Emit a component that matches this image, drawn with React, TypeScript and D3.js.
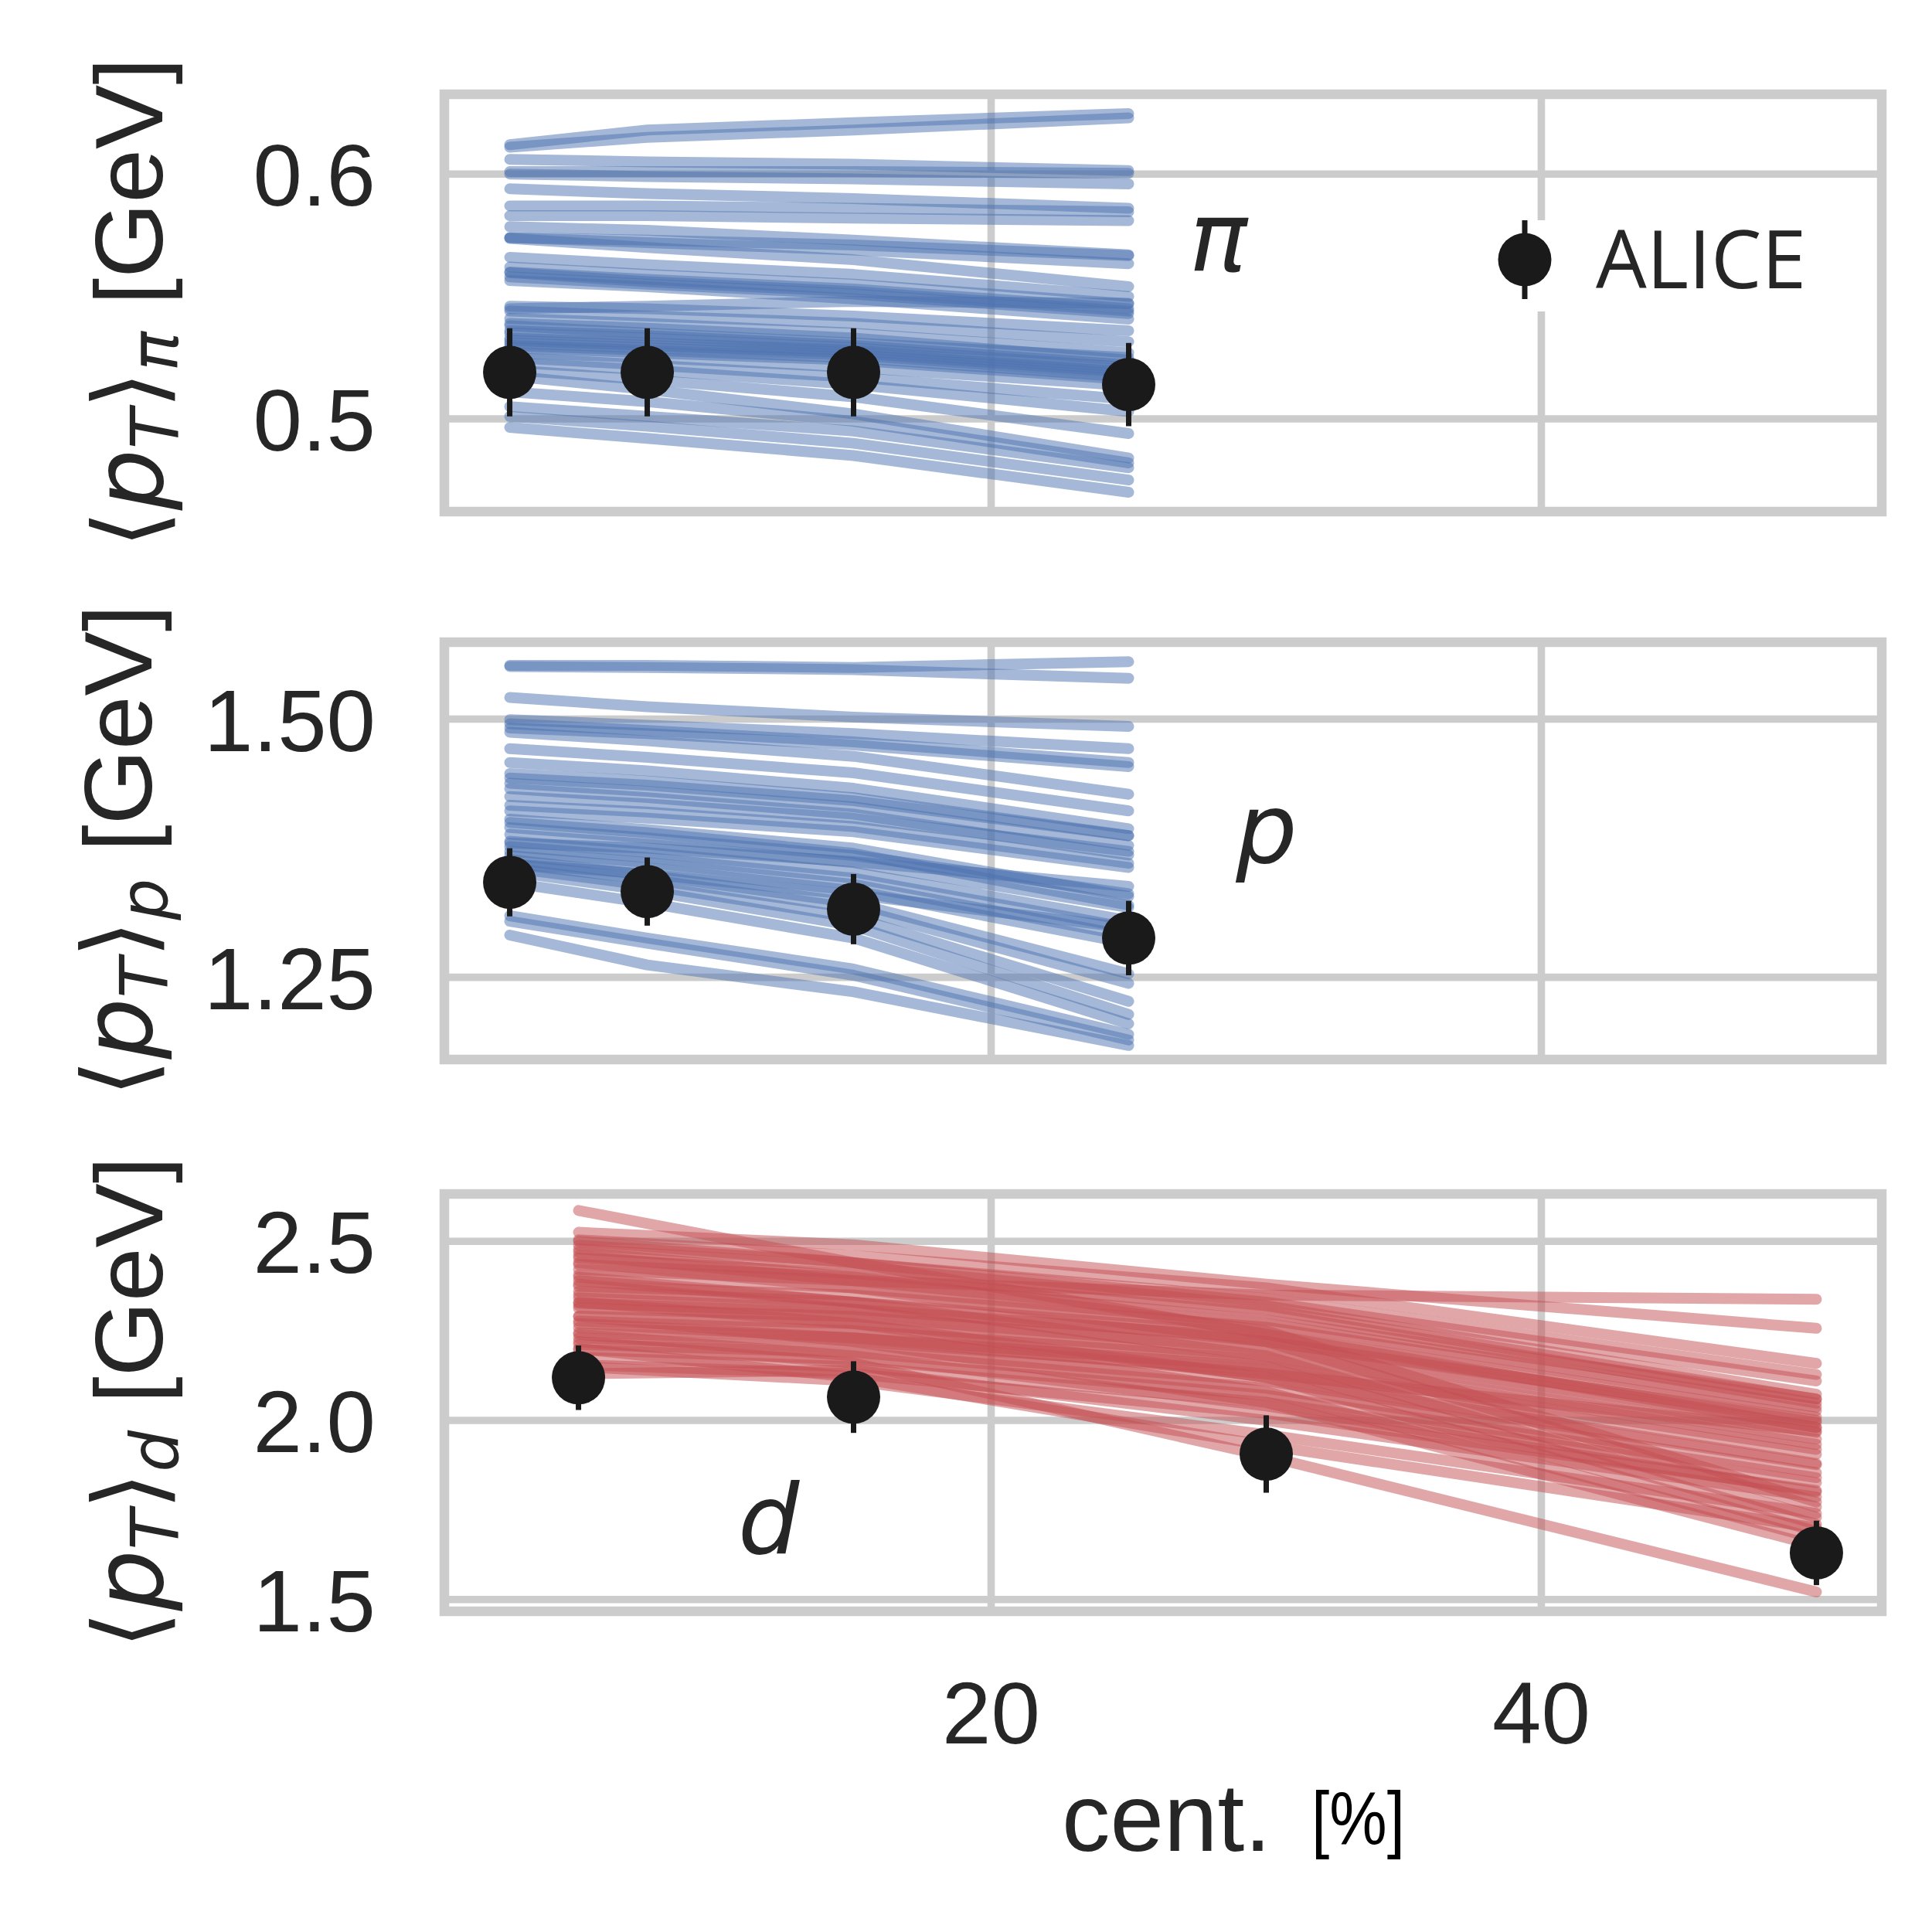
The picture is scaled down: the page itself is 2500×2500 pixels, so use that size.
import React, { useEffect, useRef } from 'react';
import * as d3 from 'd3';

// centrality bins (%)
const PI_CENT = [2.5, 7.5, 15, 25];
const D_CENT = [5, 15, 30, 50];

// model curves, one row per parameter sample
const PION_MODEL: number[][] = [
  [0.612, 0.618, 0.621, 0.6247],
  [0.611, 0.615, 0.618, 0.623],
  [0.606, 0.605, 0.604, 0.6014],
  [0.601, 0.601, 0.601, 0.6003],
  [0.600, 0.599, 0.598, 0.596],
  [0.594, 0.592, 0.590, 0.586],
  [0.587, 0.587, 0.586, 0.5846],
  [0.583, 0.583, 0.582, 0.581],
  [0.5785, 0.577, 0.573, 0.567],
  [0.574, 0.573, 0.571, 0.5667],
  [0.574, 0.572, 0.569, 0.5634],
  [0.5737, 0.570, 0.565, 0.554],
  [0.566, 0.563, 0.559, 0.550],
  [0.562, 0.559, 0.555, 0.547],
  [0.560, 0.557, 0.553, 0.545],
  [0.5597, 0.556, 0.552, 0.544],
  [0.558, 0.555, 0.551, 0.543],
  [0.5565, 0.554, 0.549, 0.5407],
  [0.546, 0.545, 0.542, 0.536],
  [0.545, 0.546, 0.548, 0.5472],
  [0.544, 0.542, 0.539, 0.5315],
  [0.541, 0.539, 0.535, 0.527],
  [0.539, 0.537, 0.533, 0.524],
  [0.538, 0.535, 0.531, 0.525],
  [0.536, 0.534, 0.530, 0.522],
  [0.535, 0.533, 0.529, 0.521],
  [0.533, 0.531, 0.528, 0.520],
  [0.532, 0.530, 0.527, 0.519],
  [0.531, 0.529, 0.526, 0.518],
  [0.530, 0.528, 0.525, 0.517],
  [0.529, 0.527, 0.524, 0.516],
  [0.527, 0.525, 0.521, 0.5136],
  [0.525, 0.522, 0.517, 0.508],
  [0.523, 0.520, 0.514, 0.503],
  [0.520, 0.516, 0.509, 0.494],
  [0.5175, 0.512, 0.502, 0.484],
  [0.511, 0.507, 0.499, 0.482],
  [0.505, 0.501, 0.495, 0.480],
  [0.501, 0.497, 0.490, 0.475],
  [0.4965, 0.492, 0.485, 0.470],
];

const PROTON_MODEL: number[][] = [
  [1.552, 1.552, 1.550, 1.5556],
  [1.551, 1.550, 1.548, 1.5396],
  [1.521, 1.512, 1.502, 1.493],
  [1.4995, 1.494, 1.486, 1.4714],
  [1.4955, 1.489, 1.478, 1.458],
  [1.4914, 1.486, 1.475, 1.454],
  [1.4874, 1.479, 1.464, 1.4273],
  [1.4714, 1.463, 1.448, 1.4112],
  [1.458, 1.450, 1.433, 1.3939],
  [1.4473, 1.440, 1.424, 1.3872],
  [1.443, 1.436, 1.421, 1.387],
  [1.438, 1.430, 1.415, 1.3778],
  [1.4326, 1.424, 1.408, 1.3684],
  [1.425, 1.418, 1.404, 1.372],
  [1.4166, 1.410, 1.396, 1.3604],
  [1.4112, 1.404, 1.391, 1.3564],
  [1.4032, 1.393, 1.375, 1.3283],
  [1.400, 1.390, 1.370, 1.320],
  [1.395, 1.385, 1.368, 1.331],
  [1.3885, 1.379, 1.361, 1.3176],
  [1.3818, 1.371, 1.352, 1.305],
  [1.380, 1.375, 1.362, 1.338],
  [1.3765, 1.366, 1.346, 1.298],
  [1.372, 1.361, 1.340, 1.290],
  [1.368, 1.356, 1.334, 1.283],
  [1.364, 1.349, 1.322, 1.2535],
  [1.360, 1.350, 1.330, 1.298],
  [1.360, 1.345, 1.317, 1.2441],
  [1.356, 1.339, 1.308, 1.2267],
  [1.3524, 1.334, 1.300, 1.214],
  [1.3417, 1.322, 1.288, 1.205],
  [1.3096, 1.288, 1.258, 1.1947],
  [1.3043, 1.283, 1.252, 1.1893],
  [1.2909, 1.262, 1.236, 1.184],
];

const DEUTERON_MODEL: number[][] = [
  [2.586, 2.44, 2.24, 1.98],
  [2.525, 2.49, 2.38, 2.257],
  [2.504, 2.46, 2.37, 2.159],
  [2.50, 2.44, 2.33, 2.11],
  [2.489, 2.44, 2.34, 2.128],
  [2.478, 2.43, 2.32, 2.073],
  [2.47, 2.40, 2.25, 1.772],
  [2.46, 2.39, 2.28, 2.06],
  [2.453, 2.41, 2.31, 2.059],
  [2.44, 2.37, 2.22, 1.758],
  [2.435, 2.40, 2.30, 2.048],
  [2.421, 2.39, 2.35, 2.338],
  [2.406, 2.37, 2.27, 2.037],
  [2.40, 2.33, 2.18, 1.729],
  [2.39, 2.33, 2.22, 2.00],
  [2.38, 2.31, 2.15, 1.71],
  [2.374, 2.35, 2.26, 2.027],
  [2.36, 2.33, 2.24, 2.009],
  [2.35, 2.28, 2.12, 1.69],
  [2.342, 2.31, 2.23, 1.994],
  [2.33, 2.27, 2.12, 1.88],
  [2.327, 2.30, 2.21, 1.98],
  [2.32, 2.25, 2.08, 1.67],
  [2.313, 2.29, 2.20, 1.966],
  [2.291, 2.27, 2.18, 1.948],
  [2.29, 2.22, 2.05, 1.65],
  [2.277, 2.25, 2.17, 1.933],
  [2.27, 2.23, 2.13, 1.97],
  [2.259, 2.23, 2.15, 1.919],
  [2.245, 2.22, 2.14, 1.905],
  [2.24, 2.18, 2.04, 1.80],
  [2.23, 2.20, 2.11, 1.876],
  [2.22, 2.16, 1.90, 1.521],
  [2.212, 2.19, 2.09, 1.854],
  [2.20, 2.12, 1.93, 1.70],
  [2.198, 2.17, 2.07, 1.84],
  [2.176, 2.15, 2.05, 1.826],
  [2.155, 2.13, 2.02, 1.804],
  [2.15, 2.11, 1.96, 1.74],
  [2.13, 2.14, 2.00, 1.786],
];

// ALICE measurements
const PION_ALICE = [0.519, 0.519, 0.519, 0.514];
const PION_ERR = [0.018, 0.018, 0.018, 0.017];
const PROTON_ALICE = [1.342, 1.333, 1.316, 1.288];
const PROTON_ERR = [0.033, 0.033, 0.034, 0.036];
const DEUTERON_ALICE = [2.119, 2.065, 1.906, 1.630];
const DEUTERON_ERR = [0.09, 0.10, 0.108, 0.09];

const X_TICKS = [20, 40];
const PION_TICKS = ['0.5', '0.6'];
const PROTON_TICKS = ['1.25', '1.50'];
const DEUTERON_TICKS = ['1.5', '2.0', '2.5'];

const BLUE = '#4C72B0';
const RED = '#C44E52';
const DARK = '#1a1a1a';
const TEXT = '#262626';
const GRID = '#cccccc';

const App: React.FC = () => {
  const svgRef = useRef<SVGSVGElement>(null);

  useEffect(() => {
    if (!svgRef.current) return;
    const svg = d3.select(svgRef.current);
    svg.selectAll('*').remove();

    const left = 575;
    const right = 2435;
    const ph = 540;

    const x = d3.scaleLinear().domain([0.125, 52.375]).range([left, right]);

    const panels = [
      { top: 122, domain: [0.4621, 0.6326], ticks: PION_TICKS, cent: PI_CENT, model: PION_MODEL,
        data: PION_ALICE, err: PION_ERR, color: BLUE, sub: 'π', labelX: 210, tag: 'π', tagPos: [27.2, 0.5605] },
      { top: 831, domain: [1.1704, 1.5745], ticks: PROTON_TICKS, cent: PI_CENT, model: PROTON_MODEL,
        data: PROTON_ALICE, err: PROTON_ERR, color: BLUE, sub: 'p', labelX: 196, tag: 'p', tagPos: [28.9, 1.361] },
      { top: 1545, domain: [1.467, 2.632], ticks: DEUTERON_TICKS, cent: D_CENT, model: DEUTERON_MODEL,
        data: DEUTERON_ALICE, err: DEUTERON_ERR, color: RED, sub: 'd', labelX: 210, tag: 'd', tagPos: [10.8, 1.628] },
    ];

    panels.forEach((p, pi) => {
      const y = d3.scaleLinear().domain(p.domain).range([p.top + ph, p.top]);
      const g = svg.append('g');

      // grid
      g.selectAll('line.hgrid').data(p.ticks).join('line')
        .attr('x1', left).attr('x2', right)
        .attr('y1', d => y(+d)).attr('y2', d => y(+d))
        .attr('stroke', GRID).attr('stroke-width', 9.6);
      g.selectAll('line.vgrid').data(X_TICKS).join('line')
        .attr('x1', d => x(d)).attr('x2', d => x(d))
        .attr('y1', p.top).attr('y2', p.top + ph)
        .attr('stroke', GRID).attr('stroke-width', 9.6);

      // model lines
      const line = d3.line<number>()
        .x((_, i) => x(p.cent[i]))
        .y(d => y(d));
      g.selectAll('path.model').data(p.model).join('path')
        .attr('d', d => line(d))
        .attr('fill', 'none')
        .attr('stroke', p.color)
        .attr('stroke-opacity', 0.5)
        .attr('stroke-width', 14)
        .attr('stroke-linecap', 'round')
        .attr('stroke-linejoin', 'round');

      // spines
      g.append('rect')
        .attr('x', left).attr('y', p.top)
        .attr('width', right - left).attr('height', ph)
        .attr('fill', 'none').attr('stroke', GRID).attr('stroke-width', 12.5);

      // ALICE points
      g.selectAll('line.err').data(p.data).join('line')
        .attr('x1', (_, i) => x(p.cent[i])).attr('x2', (_, i) => x(p.cent[i]))
        .attr('y1', (d, i) => y(d - p.err[i])).attr('y2', (d, i) => y(d + p.err[i]))
        .attr('stroke', DARK).attr('stroke-width', 7);
      g.selectAll('circle.pt').data(p.data).join('circle')
        .attr('cx', (_, i) => x(p.cent[i])).attr('cy', d => y(d))
        .attr('r', 34.5).attr('fill', DARK);

      // y tick labels
      g.selectAll('text.ytick').data(p.ticks).join('text')
        .attr('x', 486).attr('y', d => y(+d) + 41)
        .attr('text-anchor', 'end')
        .attr('fill', TEXT)
        .style('font-family', '"Liberation Sans", Arial, sans-serif')
        .style('font-size', '114px')
        .text(d => d);

      // y label
      const lab = g.append('text')
        .attr('transform', `translate(${p.labelX},${p.top + ph / 2}) rotate(-90)`)
        .attr('text-anchor', 'middle')
        .attr('fill', TEXT)
        .style('font-size', '125px');
      lab.append('tspan').style('font-family', '"DejaVu Sans"').text('⟨');
      lab.append('tspan').style('font-family', '"DejaVu Sans"').style('font-style', 'italic').text('p');
      lab.append('tspan').style('font-family', '"DejaVu Sans"').style('font-style', 'italic')
        .style('font-size', '85px').attr('dy', 20).text('T');
      lab.append('tspan').style('font-family', '"DejaVu Sans"').attr('dy', -20).text('⟩');
      lab.append('tspan').style('font-family', '"DejaVu Sans"').style('font-style', 'italic')
        .style('font-size', '85px').attr('dy', 20).text(p.sub);
      lab.append('tspan').style('font-family', '"Liberation Sans", Arial, sans-serif')
        .attr('dy', -20).text('\u00a0[GeV]');

      // species tag
      g.append('text')
        .attr('x', x(p.tagPos[0])).attr('y', y(p.tagPos[1]))
        .attr('fill', TEXT)
        .style('font-family', '"DejaVu Sans"')
        .style('font-style', 'italic')
        .style('font-size', '125px')
        .text(p.tag);

      // bottom panel x ticks
      if (pi === panels.length - 1) {
        g.selectAll('text.xtick').data(X_TICKS).join('text')
          .attr('x', d => x(d)).attr('y', 2256)
          .attr('text-anchor', 'middle')
          .attr('fill', TEXT)
          .style('font-family', '"Liberation Sans", Arial, sans-serif')
          .style('font-size', '114px')
          .text(d => d);
      }

      // legend in top panel
      if (pi === 0) {
        const lg = g.append('g');
        lg.append('rect').attr('x', 1915).attr('y', 285).attr('width', 480).attr('height', 118).attr('fill', '#fff');
        lg.append('line').attr('x1', 1973).attr('x2', 1973).attr('y1', 285).attr('y2', 387)
          .attr('stroke', DARK).attr('stroke-width', 7);
        lg.append('circle').attr('cx', 1973).attr('cy', 336).attr('r', 34.5).attr('fill', DARK);
        lg.append('text').attr('x', 2065).attr('y', 373)
          .attr('fill', TEXT)
          .style('font-family', '"Open Sans", sans-serif')
          .style('font-size', '104px')
          .text('ALICE');
      }
    });

    // x label
    const xl = svg.append('g');
    xl.append('text').attr('x', 1374).attr('y', 2395)
      .attr('fill', TEXT)
      .style('font-family', '"Liberation Sans", Arial, sans-serif')
      .style('font-size', '125px')
      .text('cent.');
    xl.append('text').attr('x', 1697).attr('y', 2386)
      .attr('fill', '#000')
      .attr('textLength', 121)
      .attr('lengthAdjust', 'spacingAndGlyphs')
      .style('font-family', '"Liberation Sans", Arial, sans-serif')
      .style('font-size', '96px')
      .text('[%]');
  }, []);

  return (
    <svg
      ref={svgRef}
      width={2500}
      height={2500}
      style={{ position: 'absolute', left: 0, top: 0, background: '#fff', display: 'block' }}
    />
  );
};

export default App;
